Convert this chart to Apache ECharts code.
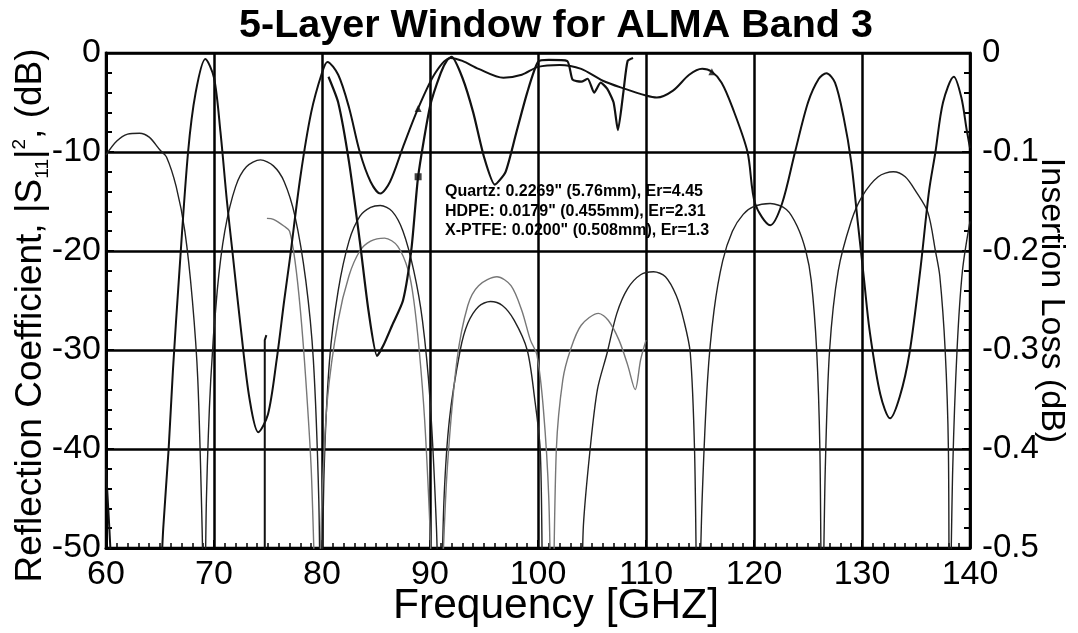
<!DOCTYPE html>
<html>
<head>
<meta charset="utf-8">
<script src="https://cdn.jsdelivr.net/npm/echarts@6/dist/echarts.min.js"></script>
<style>
html,body{margin:0;padding:0;background:#fff;}
#chart{width:1078px;height:633px;}
</style>
</head>
<body>
<div id="chart"></div>
<script>
// ---------- data ----------
const xTicks = [60, 70, 80, 90, 100, 110, 120, 130, 140];
const leftTicks = [0, -10, -20, -30, -40, -50];
const rightTicks = [0, -0.1, -0.2, -0.3, -0.4, -0.5];

// Reflection coefficient, design (dB, left axis)
const s11TheoryFreq = [60,61,62,63.1,64,65,65.6,66.5,67.3,68,68.5,68.9,69.1,69.3,69.7,70.3,71,72,73,74.3,75.5,76.5,77.5,78.5,79.2,79.7,79.9,80.2,80.7,81.5,82.5,83.5,84.5,85.4,86.5,87.5,88.5,89.3,90,90.6,90.9,91.3,91.8,92.8,93.5,94.5,95.6,96.7,97.8,99,99.7,100.2,100.9,103.8,104.2,104.8,105.5,106.4,107.3,108.3,109.5,110.7,111.8,112.8,113.5,114.1,114.5,114.8,115.2,115.7,116.3,117.1,118,119,120,121.5,123,124,124.8,125.3,125.8,126.1,126.3,126.6,127,127.8,129,130,131.5,132.9,134,135,136.1,136.8,137.2,137.7,138,138.1,138.4,138.8,139.3,140];
const s11TheoryDb   = [-10.3,-8.9,-8.2,-8.1,-8.5,-9.8,-10.5,-13.5,-18,-25,-33,-48,-60,-45,-33,-24,-18,-13.5,-11.5,-10.8,-11.4,-13,-16.5,-23,-31,-45,-60,-42,-31,-24,-19,-16.5,-15.6,-15.4,-16,-18,-22,-27,-35,-48,-60,-45,-37,-30,-27.3,-25.6,-25.1,-25.5,-27,-30,-35,-40,-60,-60,-47.8,-40.3,-34,-30.3,-26.3,-23.8,-22.4,-22.1,-22.6,-24.5,-27,-30.3,-40.3,-60,-45,-33,-26,-21,-18,-16.3,-15.5,-15.2,-15.8,-17.5,-20,-23,-30,-40,-60,-42,-30,-22,-17,-14.5,-12.5,-12,-12.5,-14,-16.1,-20,-22.5,-30,-40,-60,-42,-30,-22,-17];

// Reflection coefficient, measured (dB, left axis)
const s11MeasFreq = [74.9,75.5,76.5,77,77.5,78,78.5,79,79.6,80,80.5,81.5,82.5,83.5,84.5,85.8,87,88,88.5,89,89.5,90,90.4,91,91.6,92.5,93.5,94.5,96.2,97.5,98.5,99.3,99.9,100.5,101,101.3,101.7,102.3,103,104,105.6,106.5,107.5,108.3,109,109.5,110];
const s11MeasDb   = [-16.7,-16.8,-17.5,-18,-21,-26,-33,-42,-60,-45,-35,-27,-22.5,-20,-19,-18.7,-19.5,-22,-25,-30,-37,-48,-60,-55,-42,-31,-25.5,-23.5,-22.6,-23.5,-26,-29,-30.5,-36,-45,-60,-40,-33,-30,-27.5,-26.3,-27,-29,-31.5,-34,-31,-29];
const s11DropFreq = [74.7,74.7,74.85];
const s11DropDb   = [-55,-29,-28.5];

// Insertion loss, design (left-axis units = 100 x dB of the right axis)
const ilTheoryFreq = [60,60.5,61,64.5,65,65.3,65.8,66.2,66.8,67.6,68.3,69.2,70,70.6,71.2,71.7,72.5,73.3,74.1,75,75.8,76.5,77,78,79,80,80.5,81.5,82.5,83.5,84.5,85.4,86.3,87.5,88.9,90.5,91.9,93,94.5,96.8,98.5,100,102,104,106,108,110,111,112.5,114,115.2,116.1,117,118,119.4,120.1,121.5,122.6,123.8,125,126,126.7,127.5,128.3,129,129.6,130.2,130.7,131.7,132.6,133.5,134.4,135.4,136.2,136.8,137.5,138.5,139.2,139.7,140];
const ilTheoryDb   = [-42,-52,-65,-65,-55,-48,-40,-32,-22,-10,-4,-0.6,-2.5,-8,-15,-20,-28,-35,-38.3,-36.5,-31,-25,-21,-12.5,-6,-2,-0.9,-2.2,-5.5,-10,-13,-14.2,-13,-9.5,-5.6,-2,-0.5,-0.8,-1.6,-2.5,-2.2,-1.4,-1.2,-1.6,-2.8,-3.6,-4.3,-4.5,-3.8,-2.2,-1.6,-1.9,-3,-5.5,-10,-15.2,-17.4,-15.2,-10,-5,-2.6,-2.05,-3,-6.5,-11,-17,-23,-28,-34.5,-36.9,-34.7,-30.3,-21.9,-14,-10,-5,-2.4,-4.5,-7.8,-9.6];

// Insertion loss, measured
const ilMeasFreq = [80.6,81.5,82.5,83.5,84.3,85.1,85.7,86.5,87.5,88.3,88.9,90,91,91.6,92,93,94,95,96,97,98,99,100,101,102.7,103.2,104,104.6,105.2,105.8,106.4,107,107.4,107.9,108.3,108.8];
const ilMeasDb   = [-2.4,-5,-11,-19,-26,-30.6,-29.5,-27.5,-25,-19.6,-12.5,-5.4,-2,-0.7,-0.4,-2.5,-6,-10.5,-13.3,-12,-8,-4,-0.9,-0.7,-0.8,-2.7,-2.9,-2.6,-4,-3,-3.6,-5,-7.8,-4,-0.8,-0.5];

// data markers
const markerFreq = [88.9, 88.9, 116.1];
const markerDb   = [-12.5, -5.6, -1.9];
const markerShape = ['rect', 'triangle', 'triangle'];

const noteLines = [
  'Quartz: 0.2269" (5.76mm), Er=4.45',
  'HDPE: 0.0179" (0.455mm), Er=2.31',
  'X-PTFE: 0.0200" (0.508mm), Er=1.3'
];

function zip(xs, ys) { return xs.map((x, i) => [x, ys[i]]); }

const FONT = 'Liberation Sans, Arial, sans-serif';
const chart = echarts.init(document.getElementById('chart'), null, {renderer: 'canvas'});

const option = {
  backgroundColor: '#fff',
  animation: false,
  title: {
    text: '5-Layer Window for ALMA Band 3',
    left: 551, top: 1, textAlign: 'center',
    textStyle: {fontFamily: FONT, fontSize: 39.5, fontWeight: 'bold', color: '#000'}
  },
  grid: {left: 106, right: 108, top: 53, bottom: 85, show: true, borderColor: '#000', borderWidth: 2.5,
         containLabel: false, outerBoundsMode: 'none'},
  xAxis: {
    type: 'value', min: 60, max: 140, interval: 10,
    name: 'Frequency [GHZ]', nameLocation: 'middle', nameGap: 37, nameMoveOverlap: false,
    nameTextStyle: {fontFamily: FONT, fontSize: 42.5, color: '#000', padding: [0, 0, 0, 36]},
    axisLine: {show: true, onZero: false, lineStyle: {color: '#000', width: 3}},
    axisTick: {show: true, inside: true, length: 8, lineStyle: {color: '#000', width: 2}},
    minorTick: {show: true, splitNumber: 10, length: 5, lineStyle: {color: '#000', width: 1.5}},
    axisLabel: {fontFamily: FONT, fontSize: 34, color: '#000', margin: 10,
      formatter: v => xTicks.includes(v) ? String(v) : ''},
    splitLine: {show: true, lineStyle: {color: '#000', width: 2.5}}
  },
  yAxis: [{
    type: 'value', min: -50, max: 0, interval: 10, position: 'left',
    name: '{m|Reflection Coefficient, |S}{sub|11}{m||}{sup|2}{m|, (dB)}',
    nameLocation: 'middle', nameGap: 54, nameRotate: 90, nameMoveOverlap: false,
    nameTextStyle: {
      fontFamily: FONT, color: '#000', padding: [0, 30, 0, 0],
      rich: {
        m: {fontFamily: FONT, fontSize: 37, color: '#000', lineHeight: 42},
        sub: {fontFamily: FONT, fontSize: 19, color: '#000', verticalAlign: 'bottom', lineHeight: 42},
        sup: {fontFamily: FONT, fontSize: 19, color: '#000', verticalAlign: 'top', lineHeight: 42}
      }
    },
    axisLine: {show: true, onZero: false, lineStyle: {color: '#000', width: 3}},
    axisTick: {show: true, inside: true, length: 8, lineStyle: {color: '#000', width: 2}},
    minorTick: {show: true, splitNumber: 5, length: 6, lineStyle: {color: '#000', width: 2}},
    axisLabel: {fontFamily: FONT, fontSize: 34, color: '#000', margin: 5,
      formatter: v => leftTicks.includes(v) ? String(v) : ''},
    splitLine: {show: true, lineStyle: {color: '#000', width: 2.5}}
  }, {
    type: 'value', min: -0.5, max: 0, interval: 0.1, position: 'right',
    name: 'Insertion Loss (dB)', nameLocation: 'middle', nameGap: 64, nameRotate: -90, nameMoveOverlap: false,
    nameTextStyle: {fontFamily: FONT, fontSize: 34, color: '#000'},
    axisLine: {show: true, onZero: false, lineStyle: {color: '#000', width: 2.5}},
    axisTick: {show: true, inside: true, length: 8, lineStyle: {color: '#000', width: 2}},
    minorTick: {show: true, splitNumber: 5, length: 6, lineStyle: {color: '#000', width: 2}},
    axisLabel: {fontFamily: FONT, fontSize: 33, color: '#000', margin: 12,
      formatter: v => {
        const r = Math.round(v * 10) / 10;
        return rightTicks.includes(r) ? (r === 0 ? '0' : r.toFixed(1)) : '';
      }},
    splitLine: {show: false}
  }],
  graphic: [{
    type: 'text', left: 445, top: 182,
    style: {
      text: noteLines.join('\n'),
      fontFamily: FONT, fontSize: 16, fontWeight: 'bold', fill: '#000', lineHeight: 19.5
    }
  }],
  series: [
    {type: 'line', name: 'S11 design', data: zip(s11TheoryFreq, s11TheoryDb), yAxisIndex: 0,
     showSymbol: false, smooth: 0.3, clip: true, lineStyle: {color: '#222', width: 1.4}},
    {type: 'line', name: 'S11 measured', data: zip(s11MeasFreq, s11MeasDb), yAxisIndex: 0,
     showSymbol: false, smooth: 0.3, clip: true, lineStyle: {color: '#777', width: 1.4}},
    {type: 'line', name: 'S11 dropout', data: zip(s11DropFreq, s11DropDb), yAxisIndex: 0,
     showSymbol: false, clip: true, lineStyle: {color: '#111', width: 2}},
    {type: 'line', name: 'IL design', data: zip(ilTheoryFreq, ilTheoryDb), yAxisIndex: 0,
     showSymbol: false, smooth: 0.3, clip: true, lineStyle: {color: '#111', width: 2}},
    {type: 'line', name: 'IL measured', data: zip(ilMeasFreq, ilMeasDb), yAxisIndex: 0,
     showSymbol: false, smooth: 0.2, clip: true, lineStyle: {color: '#111', width: 2.2}},
    {type: 'scatter', name: 'markers', yAxisIndex: 0,
     data: markerFreq.map((f, i) => ({value: [f, markerDb[i]], symbol: markerShape[i]})),
     symbolSize: 7, itemStyle: {color: '#111'}}
  ]
};
chart.setOption(option);
</script>
</body>
</html>
